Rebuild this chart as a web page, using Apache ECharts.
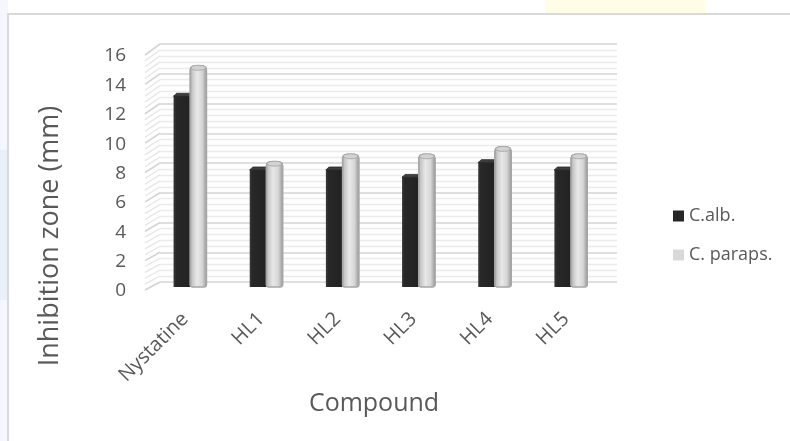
<!DOCTYPE html>
<html>
<head>
<meta charset="utf-8">
<script src="https://cdn.jsdelivr.net/npm/echarts@6/dist/echarts.min.js"></script>
<style>
  html, body { margin: 0; padding: 0; background: #ffffff; }
  #chart { width: 790px; height: 441px; }
</style>
</head>
<body>
<div id="chart"></div>
<script>
// Inhibition zone per compound, two fungal strains
var compounds = ['Nystatine', 'HL1', 'HL2', 'HL3', 'HL4', 'HL5'];
var cAlb = [13, 8, 8, 7.5, 8.5, 8];
var cParaps = [15, 8.5, 9, 9, 9.5, 9];
var seriesNames = ['C.alb.', 'C. paraps.'];
var yTicks = { min: 0, max: 16, step: 2 };

var FONT = '"Open Sans", "Noto Sans", sans-serif';
var TEXT = '#595959';

var chart = echarts.init(document.getElementById('chart'), null, { renderer: 'canvas' });

// Each column is drawn as a front face plus a small cap, half a pair wide
function columnRenderer(side) {
  return function (params, api) {
    var ci = api.value(0), v = api.value(1);
    var base = api.coord([ci, 0]);
    var top = api.coord([ci, v]);
    var band = api.size([1, 0])[0];
    var w = band * 0.217;
    var x0 = side === 0 ? base[0] - w : base[0];
    var h = base[1] - top[1];
    if (side === 0) {
      return {
        type: 'group',
        children: [
          {
            type: 'rect',
            shape: { x: x0, y: top[1], width: w, height: h },
            style: {
              fill: new echarts.graphic.LinearGradient(0, 0, 1, 0, [
                { offset: 0, color: '#3a3a3a' },
                { offset: 0.15, color: '#282828' },
                { offset: 1, color: '#222222' }
              ])
            }
          },
          {
            type: 'polygon',
            shape: { points: [[x0, top[1] + 1], [x0 + 3, top[1] - 2], [x0 + w + 3, top[1] - 2], [x0 + w, top[1] + 1]] },
            style: { fill: '#3e3e3e', stroke: '#2a2a2a', lineWidth: 0.8 }
          }
        ]
      };
    }
    return {
      type: 'group',
      children: [
        {
          type: 'rect',
          shape: { x: x0, y: top[1], width: w, height: h, r: [4, 4, 2, 2] },
          style: {
            fill: new echarts.graphic.LinearGradient(0, 0, 1, 0, [
              { offset: 0, color: '#8e8e8e' },
              { offset: 0.14, color: '#c6c6c6' },
              { offset: 0.42, color: '#e8e8e8' },
              { offset: 0.72, color: '#d6d6d6' },
              { offset: 1, color: '#929292' }
            ]),
            stroke: '#a6a6a6',
            lineWidth: 1
          }
        },
        {
          type: 'ellipse',
          shape: { cx: x0 + w / 2, cy: top[1] + 2, rx: w / 2 - 1, ry: 2.5 },
          style: { fill: '#d2d2d2', stroke: '#a0a0a0', lineWidth: 0.8 }
        }
      ]
    };
  };
}

function pairs(values) {
  return values.map(function (v, i) { return [i, v]; });
}

var option = {
  backgroundColor: '#ffffff',
  animation: false,
  textStyle: { fontFamily: FONT },
  grid: [
    // back wall
    { left: 160, top: 44, width: 457, height: 238 },
    // column plane
    { left: 152, top: 51, width: 457, height: 236 },
    // front edge carrying the value labels
    { left: 145, top: 56, width: 15, height: 235 }
  ],
  xAxis: [
    { gridIndex: 0, type: 'value', min: 0, max: 1, show: false },
    {
      gridIndex: 1, type: 'category', data: compounds,
      axisLine: { show: false }, axisTick: { show: false },
      axisLabel: { rotate: 45, margin: 24, padding: [0, 7, 0, 0], fontSize: 20, color: TEXT, fontFamily: FONT, interval: 0 }
    },
    { gridIndex: 2, type: 'value', min: 0, max: 1, show: false }
  ],
  yAxis: [
    {
      gridIndex: 0, type: 'value', min: yTicks.min, max: yTicks.max, interval: yTicks.step,
      axisLabel: { show: false }, axisLine: { show: false }, axisTick: { show: false },
      splitLine: { show: true, lineStyle: { color: '#d4d4d4', width: 1.6 } },
      minorTick: { show: false, splitNumber: 5 },
      minorSplitLine: { show: true, lineStyle: { color: '#ebebeb', width: 1.3 } }
    },
    {
      gridIndex: 1, type: 'value', min: yTicks.min, max: yTicks.max, interval: yTicks.step,
      show: false, splitLine: { show: false }
    },
    {
      gridIndex: 2, type: 'value', min: yTicks.min, max: yTicks.max, interval: yTicks.step,
      axisLine: { show: false }, axisTick: { show: false }, splitLine: { show: false },
      axisLabel: { margin: 19, fontSize: 19, color: TEXT, fontFamily: FONT }
    }
  ],
  legend: {
    orient: 'vertical',
    left: 668,
    top: 202,
    itemWidth: 11,
    itemHeight: 11,
    itemGap: 21,
    itemTextGap: 5,
    icon: 'rect',
    data: seriesNames,
    textStyle: { fontSize: 18, color: TEXT, fontFamily: FONT }
  },
  series: [
    {
      name: seriesNames[0], type: 'custom', xAxisIndex: 1, yAxisIndex: 1,
      itemStyle: { color: '#262626' },
      renderItem: columnRenderer(0),
      encode: { x: 0, y: 1 },
      data: pairs(cAlb)
    },
    {
      name: seriesNames[1], type: 'custom', xAxisIndex: 1, yAxisIndex: 1,
      itemStyle: { color: '#d9d9d9' },
      renderItem: columnRenderer(1),
      encode: { x: 0, y: 1 },
      data: pairs(cParaps)
    }
  ]
};

chart.setOption(option);

// Side wall: slanted lines joining the front edge to the back wall at every gridline
var wall = [];
var minorCount = (yTicks.max - yTicks.min) / yTicks.step * 5;
for (var i = 0; i <= minorCount; i++) {
  var v = yTicks.min + i * (yTicks.max - yTicks.min) / minorCount;
  var front = chart.convertToPixel({ gridIndex: 2 }, [0, v]);
  var back = chart.convertToPixel({ gridIndex: 0 }, [0, v]);
  var major = i % 5 === 0;
  wall.push({
    type: 'line',
    silent: true,
    z: 0,
    shape: { x1: front[0], y1: front[1] - 1, x2: back[0], y2: back[1] },
    style: { stroke: major ? '#d4d4d4' : '#e6e6e6', lineWidth: major ? 1.6 : 1.3 }
  });
}

chart.setOption({
  graphic: [
    // soft page tint around the chart frame
    { type: 'rect', z: -10, silent: true, shape: { x: 0, y: 0, width: 8, height: 441 }, style: { fill: '#f4f7fd' } },
    { type: 'rect', z: -10, silent: true, shape: { x: 0, y: 150, width: 8, height: 150 }, style: { fill: '#eaf0fa' } },
    { type: 'rect', z: -10, silent: true, shape: { x: 545, y: 0, width: 160, height: 13 }, style: { fill: '#fffde6' } },
    // chart frame
    { type: 'rect', z: -5, silent: true, shape: { x: 8, y: 14, width: 800, height: 450 }, style: { fill: '#ffffff', stroke: '#d9d9d9', lineWidth: 2 } },
    // axis titles
    {
      type: 'text', silent: true, x: 50, y: 236, rotation: Math.PI / 2,
      style: { text: 'Inhibition zone (mm)', fontSize: 27, fill: TEXT, fontFamily: FONT, textAlign: 'center', textVerticalAlign: 'middle' }
    },
    {
      type: 'text', silent: true, x: 374, y: 404,
      style: { text: 'Compound', fontSize: 25, fill: TEXT, fontFamily: FONT, textAlign: 'center', textVerticalAlign: 'middle' }
    }
  ].concat(wall)
});
</script>
</body>
</html>
